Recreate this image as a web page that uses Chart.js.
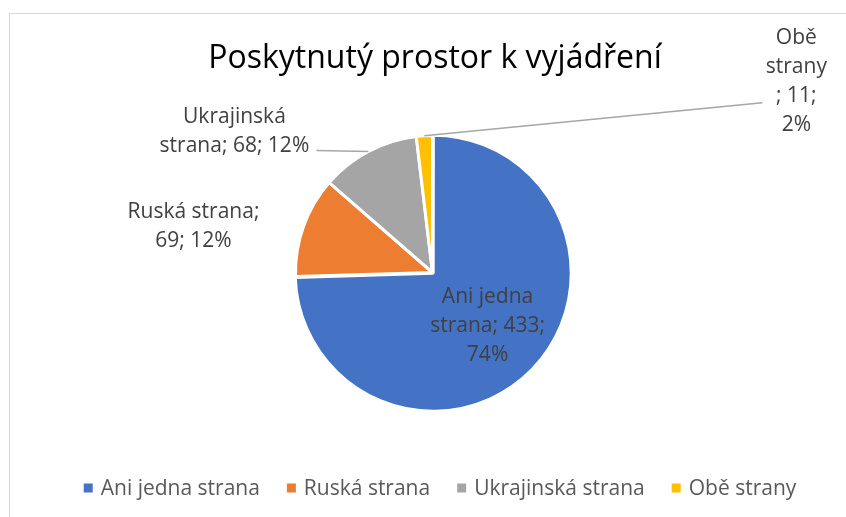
<!DOCTYPE html>
<html>
<head>
<meta charset="utf-8">
<script src="https://cdn.jsdelivr.net/npm/chart.js@4.4.1/dist/chart.umd.min.js"></script>
<style>
  html, body { margin: 0; padding: 0; background: #ffffff; }
  #wrap { position: relative; width: 846px; height: 517px; }
</style>
</head>
<body>
<div id="wrap"><canvas id="pieChart" width="846" height="517"></canvas></div>
<script>
// Data
const categories = ['Ani jedna strana', 'Ruská strana', 'Ukrajinská strana', 'Obě strany'];
const counts = [433, 69, 68, 11];
const percentLabels = ['74%', '12%', '12%', '2%'];
const sliceColors = ['#4472C4', '#ED7D31', '#A5A5A5', '#FFC000'];
const titleText = 'Poskytnutý prostor k vyjádření';

// Data label text as Excel wrapped it
const labelLines = [
    ['Ani jedna', 'strana; ' + counts[0] + ';', percentLabels[0]],
    [categories[1] + ';', counts[1] + '; ' + percentLabels[1]],
    ['Ukrajinská', 'strana; ' + counts[2] + '; ' + percentLabels[2]],
    ['Obě', 'strany', '; ' + counts[3] + ';', percentLabels[3]]
];

const FONT = '"Open Sans", "Noto Sans", sans-serif';

// Label placement: inside (fraction of radius) or offset from the arc's outer mid point
const labelLayout = [
    { inside: 0.56 },
    { dx: -110, dy: 0 },
    { dx: -134, dy: -20, leader: { dx: 82, dy: 19 } },
    { dx: 372, dy: -54, leader: { dx: -34, dy: 21 } }
];

const decorPlugin = {
    id: 'decor',
    beforeDraw(chart) {
        const ctx = chart.ctx;
        ctx.save();
        ctx.fillStyle = '#ffffff';
        ctx.fillRect(0, 0, chart.width, chart.height);
        // chart frame (right and bottom edges fall outside the picture)
        ctx.strokeStyle = '#D9D9D9';
        ctx.lineWidth = 1;
        ctx.strokeRect(9.5, 13.5, 900, 600);
        ctx.restore();
    },
    afterDraw(chart) {
        const ctx = chart.ctx;
        ctx.save();

        // Title
        ctx.fillStyle = '#000000';
        ctx.font = '32px ' + FONT;
        ctx.textAlign = 'center';
        ctx.textBaseline = 'alphabetic';
        ctx.fillText(titleText, 435, 68);

        // Legend
        ctx.font = '21px ' + FONT;
        const box = 9, boxGap = 8, itemGap = 27;
        const widths = categories.map(c => ctx.measureText(c).width);
        const total = widths.reduce((a, w) => a + box + boxGap + w, 0) + itemGap * (categories.length - 1);
        let x = 440 - total / 2;
        const ly = 489;
        ctx.textAlign = 'left';
        ctx.textBaseline = 'middle';
        categories.forEach((c, i) => {
            ctx.fillStyle = sliceColors[i];
            ctx.fillRect(x, ly - box / 2 - 1, box, box);
            x += box + boxGap;
            ctx.fillStyle = '#595959';
            ctx.fillText(c, x, ly);
            x += widths[i] + itemGap;
        });

        // Data labels
        const meta = chart.getDatasetMeta(0);
        ctx.font = '21px ' + FONT;
        ctx.textAlign = 'center';
        ctx.textBaseline = 'middle';
        const lineH = 29;
        meta.data.forEach((arc, i) => {
            const p = arc.getProps(['x', 'y', 'startAngle', 'endAngle', 'outerRadius'], true);
            const mid = (p.startAngle + p.endAngle) / 2;
            const lay = labelLayout[i];
            let cx, cy;
            const ex = p.x + Math.cos(mid) * p.outerRadius;
            const ey = p.y + Math.sin(mid) * p.outerRadius;
            if (lay.inside) {
                cx = p.x + Math.cos(mid) * p.outerRadius * lay.inside;
                cy = p.y + Math.sin(mid) * p.outerRadius * lay.inside;
            } else {
                cx = ex + lay.dx;
                cy = ey + lay.dy;
            }
            if (lay.leader) {
                ctx.strokeStyle = '#A6A6A6';
                ctx.lineWidth = 1.5;
                ctx.beginPath();
                ctx.moveTo(cx + lay.leader.dx, cy + lay.leader.dy);
                ctx.lineTo(ex, ey);
                ctx.stroke();
            }
            const lines = labelLines[i];
            ctx.fillStyle = '#404040';
            lines.forEach((t, k) => {
                ctx.fillText(t, cx, cy + (k - (lines.length - 1) / 2) * lineH);
            });
        });
        ctx.restore();
    }
};

new Chart(document.getElementById('pieChart'), {
    type: 'pie',
    data: {
        labels: categories,
        datasets: [{
            data: counts,
            backgroundColor: sliceColors,
            borderColor: '#ffffff',
            borderWidth: 3,
            offset: [4, 0, 0, 0]
        }]
    },
    options: {
        responsive: false,
        animation: false,
        events: [],
        layout: {
            padding: { top: 132, bottom: 104, left: 292, right: 273 }
        },
        plugins: {
            legend: { display: false },
            title: { display: false },
            tooltip: { enabled: false }
        }
    },
    plugins: [decorPlugin]
});
</script>
</body>
</html>
